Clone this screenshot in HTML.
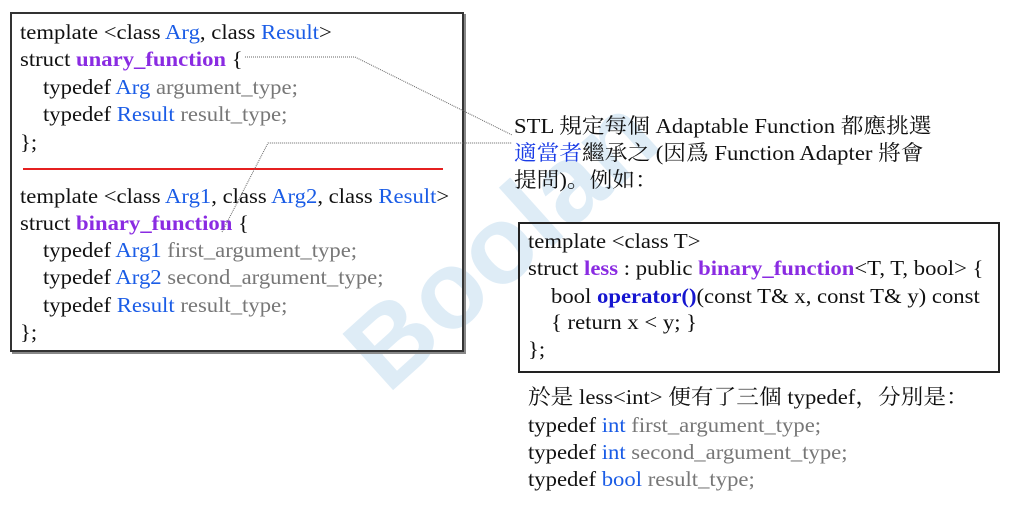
<!DOCTYPE html>
<html><head><meta charset="utf-8"><style>
body{margin:0;width:1024px;height:505px;background:#fff;position:relative;overflow:hidden;font-family:"Liberation Serif","Noto Serif CJK SC",serif;color:#111}
.ln{position:absolute;white-space:pre;font-size:21px;line-height:21px;transform:scaleX(1.08);transform-origin:left top}
.b{color:#1a5ce6}.p{color:#8a2be2;font-weight:bold}.g{color:#777}.o{color:#1515d0;font-weight:bold}
.box1{position:absolute;left:10px;top:12px;width:450px;height:336px;border:2px solid #333;box-shadow:2px 2px 0 #888}
.box2{position:absolute;left:518px;top:222px;width:478px;height:147px;border:2px solid #222}
.wm{position:absolute;left:320px;top:320px;font:bold 110px "Liberation Sans",sans-serif;color:#d6e8f5;transform:rotate(-42deg);transform-origin:left top;opacity:.8}
</style></head><body>
<div class="wm">Boolan</div>
<div class="box1"></div>
<div style="position:absolute;left:23px;top:168px;width:420px;height:2px;background:#e52020"></div>
<div class="ln" style="left:20px;top:22px">template &lt;class <span class="b">Arg</span>, class <span class="b">Result</span>&gt;</div>
<div class="ln" style="left:20px;top:49px">struct <span class="p">unary_function</span> {</div>
<div class="ln" style="left:43px;top:77px">typedef <span class="b">Arg</span> <span class="g">argument_type;</span></div>
<div class="ln" style="left:43px;top:104px">typedef <span class="b">Result</span> <span class="g">result_type;</span></div>
<div class="ln" style="left:20px;top:132px">};</div>
<div class="ln" style="left:20px;top:186px">template &lt;class <span class="b">Arg1</span>, class <span class="b">Arg2</span>, class <span class="b">Result</span>&gt;</div>
<div class="ln" style="left:20px;top:213px">struct <span class="p">binary_function</span> {</div>
<div class="ln" style="left:43px;top:240px">typedef <span class="b">Arg1</span> <span class="g">first_argument_type;</span></div>
<div class="ln" style="left:43px;top:267px">typedef <span class="b">Arg2</span> <span class="g">second_argument_type;</span></div>
<div class="ln" style="left:43px;top:295px">typedef <span class="b">Result</span> <span class="g">result_type;</span></div>
<div class="ln" style="left:20px;top:322px">};</div>
<svg style="position:absolute;left:0;top:0" width="1024" height="505">
<polyline points="245,57 355,57 512,135" fill="none" stroke="#666" stroke-width="1" stroke-dasharray="1,1"/>
<polyline points="222,232 268,143 512,143" fill="none" stroke="#666" stroke-width="1" stroke-dasharray="1,1"/>
</svg>
<div class="ln" style="left:514px;top:116px">STL 規定每個 Adaptable Function 都應挑選</div>
<div class="ln" style="left:514px;top:143px"><span style="color:#1a3ce6">適當者</span>繼承之 (因爲 Function Adapter 將會</div>
<div class="ln" style="left:514px;top:170px">提問)。例如：</div>
<div class="box2"></div>
<div class="ln" style="left:528px;top:231px">template &lt;class T&gt;</div>
<div class="ln" style="left:528px;top:258px">struct <span class="p">less</span> : public <span class="p">binary_function</span>&lt;T, T, bool&gt; {</div>
<div class="ln" style="left:551px;top:286px">bool <span class="o">operator()</span>(const T&amp; x, const T&amp; y) const</div>
<div class="ln" style="left:551px;top:312px">{ return x &lt; y; }</div>
<div class="ln" style="left:528px;top:339px">};</div>
<div class="ln" style="left:528px;top:387px">於是 less&lt;int&gt; 便有了三個 typedef，分別是：</div>
<div class="ln" style="left:528px;top:415px">typedef <span class="b">int</span> <span class="g">first_argument_type;</span></div>
<div class="ln" style="left:528px;top:442px">typedef <span class="b">int</span> <span class="g">second_argument_type;</span></div>
<div class="ln" style="left:528px;top:469px">typedef <span class="b">bool</span> <span class="g">result_type;</span></div>
</body></html>
